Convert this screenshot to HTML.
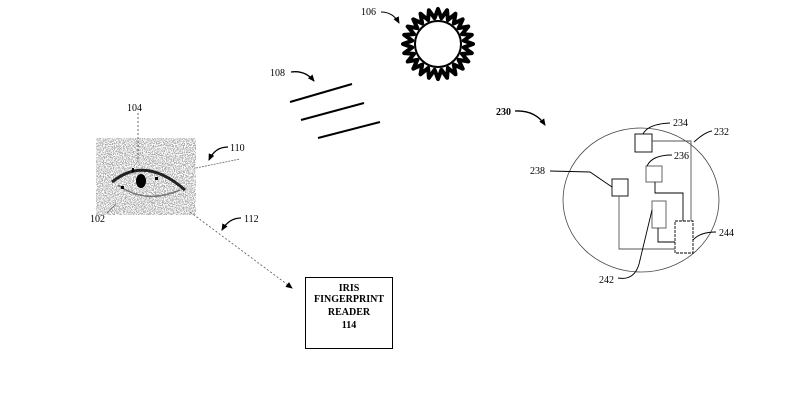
<!DOCTYPE html>
<html><head><meta charset="utf-8"><style>
html,body{margin:0;padding:0;background:#fff;}
svg{display:block;}
text{font-family:"Liberation Serif",serif;font-size:10px;fill:#000;}
</style></head><body>
<svg id="s" width="800" height="420" viewBox="0 0 800 420" xmlns="http://www.w3.org/2000/svg">
<defs>
<filter id="noise" x="0" y="0" width="100%" height="100%">
<feTurbulence type="fractalNoise" baseFrequency="0.9" numOctaves="2" seed="3" result="t"/>
<feColorMatrix in="t" type="matrix" values="0 0 0 0 0.4  0 0 0 0 0.4  0 0 0 0 0.4  0 0 0 -10 5.4"/>
</filter>
<marker id="ah" markerWidth="8" markerHeight="8" refX="6" refY="4" orient="auto" markerUnits="userSpaceOnUse">
<path d="M0,1 L7,4 L0,7 Z" fill="#000"/></marker>
</defs>
<!-- eye -->
<rect x="96" y="138" width="100" height="77" fill="#fff" filter="url(#noise)"/>
<path d="M112,182 Q145,155 185,190" stroke="#222" stroke-width="3" fill="none"/>
<path d="M118,185 Q145,205 180,190" stroke="#777" stroke-width="1.5" fill="none"/>
<ellipse cx="141" cy="181" rx="5" ry="7" fill="#000"/>
<rect x="121" y="186" width="3" height="3" fill="#000"/>
<rect x="132" y="168" width="2" height="4" fill="#000"/>
<rect x="155" y="177" width="3" height="3" fill="#000"/>
<line x1="138" y1="113" x2="138" y2="162" stroke="#444" stroke-width="0.8" stroke-dasharray="2,2"/>
<text x="127" y="111">104</text>
<text x="90" y="222">102</text>
<line x1="107" y1="213" x2="116" y2="204" stroke="#666" stroke-width="0.8"/>
<line x1="196" y1="168" x2="240" y2="159" stroke="#666" stroke-width="0.8" stroke-dasharray="2,1"/>
<path d="M228,147 Q215,147 209,160" stroke="#000" stroke-width="1.3" fill="none" marker-end="url(#ah)"/>
<text x="230" y="151">110</text>
<line x1="190" y1="212" x2="292" y2="288" stroke="#555" stroke-width="0.8" stroke-dasharray="2,2" marker-end="url(#ah)"/>
<path d="M241,218 Q229,218 222,230" stroke="#000" stroke-width="1.3" fill="none" marker-end="url(#ah)"/>
<text x="244" y="222">112</text>
<rect x="305.5" y="277.5" width="87" height="71" fill="#fff" stroke="#000" stroke-width="1"/>
<g font-weight="bold" text-anchor="middle" style="font-size:9.5px">
<text x="349" y="291">IRIS</text>
<text x="349" y="302">FINGERPRINT</text>
<text x="349" y="315">READER</text>
<text x="349" y="328">114</text></g>
<!-- light -->
<text x="270" y="76">108</text>
<path d="M291,72 Q305,70 314,81" stroke="#000" stroke-width="1.3" fill="none" marker-end="url(#ah)"/>
<g stroke="#000" stroke-width="2"><line x1="290" y1="102" x2="352" y2="84"/><line x1="301" y1="120" x2="364" y2="103"/><line x1="318" y1="138" x2="380" y2="122"/></g>
<!-- sun -->
<text x="361" y="15">106</text>
<path d="M381,12 Q393,12 399,23" stroke="#000" stroke-width="1" fill="none" marker-end="url(#ah)"/>
<polygon id="sun" fill="#fff" stroke="#000" stroke-width="4" stroke-linejoin="round"/>
<circle cx="438" cy="44" r="23" fill="#fff" stroke="#000" stroke-width="2"/>
<!-- 230 -->
<text x="496" y="115" font-weight="bold">230</text>
<path d="M515,111 Q535,110 545,125" stroke="#000" stroke-width="1.3" fill="none" marker-end="url(#ah)"/>
<ellipse cx="641" cy="200" rx="78" ry="72" fill="none" stroke="#444" stroke-width="0.8"/>
<g fill="none" stroke="#000" stroke-width="0.9">
<rect x="635" y="134" width="17" height="18"/>
<rect x="646" y="166" width="16" height="16" stroke="#555"/>
<rect x="612" y="179" width="16" height="17"/>
<rect x="652" y="201" width="14" height="27" stroke="#555"/>
<rect x="675" y="221" width="18" height="32" stroke-dasharray="3,1"/>
<polyline points="652,141 691,141 691,221" stroke="#555"/>
<polyline points="655,182 655,193 683,193 683,221"/>
<polyline points="619,196 619,249 675,249" stroke="#555"/>
<polyline points="658,228 658,242 675,242"/>
<path d="M643,134 Q648,124 670,123"/>
<path d="M647,166 Q652,155 672,155"/>
<path d="M694,142 Q705,132 712,131"/>
<path d="M550,171 L590,172 L612,187"/>
<path d="M693,240 Q700,232 716,232"/>
<path d="M618,278 Q636,281 640,260 L652,210"/>
</g>
<text x="673" y="126">234</text>
<text x="714" y="135">232</text>
<text x="674" y="159">236</text>
<text x="530" y="174">238</text>
<text x="719" y="236">244</text>
<text x="599" y="283">242</text>
</svg>
<script>
var p=[],n=24,cx=438,cy=44;
for(var i=0;i<n*2;i++){var a=i*Math.PI/n-Math.PI/2,r=(i%2==0)?35:26;p.push((cx+r*Math.cos(a)).toFixed(1)+","+(cy+r*Math.sin(a)).toFixed(1));}
document.getElementById("sun").setAttribute("points",p.join(" "));
</script>
</body></html>
